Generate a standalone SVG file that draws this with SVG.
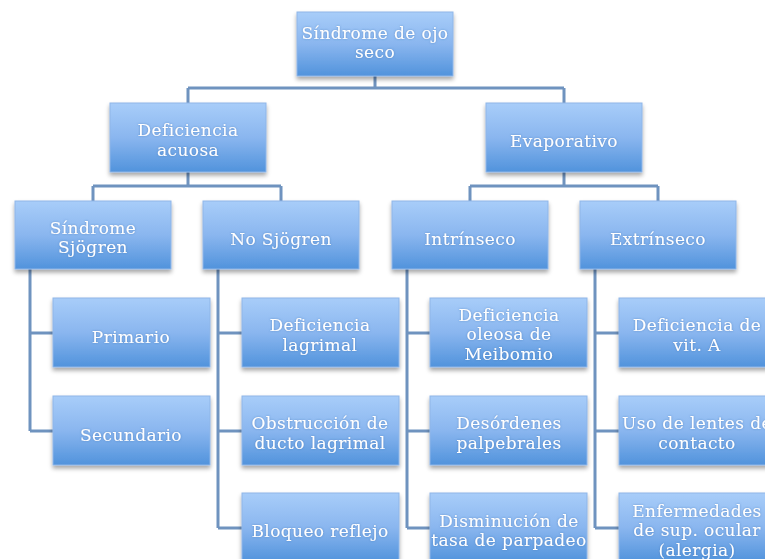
<svg xmlns="http://www.w3.org/2000/svg" width="765" height="559" viewBox="0 0 765 559">
<defs>
<linearGradient id="g" x1="0" y1="0" x2="0" y2="1">
<stop offset="0" stop-color="#a8cdf9"/>
<stop offset="0.5" stop-color="#8ab6ef"/>
<stop offset="1" stop-color="#5193dc"/>
</linearGradient>
<filter id="sh" x="-10%" y="-10%" width="120%" height="130%">
<feDropShadow dx="0" dy="3" stdDeviation="2" flood-color="#000" flood-opacity="0.35"/>
</filter>
<filter id="tg" x="-10%" y="-30%" width="120%" height="160%">
<feDropShadow dx="0" dy="0" stdDeviation="0.8" flood-color="#3b6fae" flood-opacity="0.6"/>
</filter>
</defs>
<style>
.b{fill:url(#g);stroke:#8fb6e8;stroke-width:1;filter:url(#sh)}
.t{font-family:"DejaVu Serif","Liberation Serif",serif;font-size:17px;letter-spacing:0.4px;fill:#fff;text-anchor:middle;filter:url(#tg)}
.c{fill:none;stroke:#6f93bf;stroke-width:3}
</style>
<rect width="765" height="559" fill="#fff"/>
<g id="connectors">
<path class="c" d="M375 76V88M188 88H564M188 88V103M564 88V103"/>
<path class="c" d="M188 172V186M93 186H281M93 186V201M281 186V201"/>
<path class="c" d="M564 172V186M470 186H658M470 186V201M658 186V201"/>
<path class="c" d="M30 269V431M30 333H53M30 431H53"/>
<path class="c" d="M218 269V528M218 333H242M218 431H242M218 528H242"/>
<path class="c" d="M407 269V528M407 333H430M407 431H430M407 528H430"/>
<path class="c" d="M595 269V528M595 333H619M595 431H619M595 528H619"/>
</g>
<g id="n-root"><rect class="b" x="297" y="12" width="156" height="64"/><text class="t" x="375" y="39">Síndrome de ojo</text><text class="t" x="375" y="58">seco</text></g>
<g id="n-acuosa"><rect class="b" x="110" y="103" width="156" height="69"/><text class="t" x="188" y="136">Deficiencia</text><text class="t" x="188" y="156">acuosa</text></g>
<g id="n-evap"><rect class="b" x="486" y="103" width="156" height="69"/><text class="t" x="564" y="147">Evaporativo</text></g>
<g id="n-sjogren"><rect class="b" x="15" y="201" width="156" height="68"/><text class="t" x="93" y="234">Síndrome</text><text class="t" x="93" y="253">Sjögren</text></g>
<g id="n-nosjogren"><rect class="b" x="203" y="201" width="156" height="68"/><text class="t" x="281" y="245">No Sjögren</text></g>
<g id="n-intrinseco"><rect class="b" x="392" y="201" width="156" height="68"/><text class="t" x="470" y="245">Intrínseco</text></g>
<g id="n-extrinseco"><rect class="b" x="580" y="201" width="156" height="68"/><text class="t" x="658" y="245">Extrínseco</text></g>
<g id="n-primario"><rect class="b" x="53" y="298" width="157" height="69"/><text class="t" x="131" y="343">Primario</text></g>
<g id="n-secundario"><rect class="b" x="53" y="396" width="157" height="69"/><text class="t" x="131" y="441">Secundario</text></g>
<g id="n-deflag"><rect class="b" x="242" y="298" width="157" height="69"/><text class="t" x="320" y="331">Deficiencia</text><text class="t" x="320" y="351">lagrimal</text></g>
<g id="n-obstr"><rect class="b" x="242" y="396" width="157" height="69"/><text class="t" x="320" y="429">Obstrucción de</text><text class="t" x="320" y="449">ducto lagrimal</text></g>
<g id="n-bloqueo"><rect class="b" x="242" y="493" width="157" height="69"/><text class="t" x="320" y="537">Bloqueo reflejo</text></g>
<g id="n-meibomio"><rect class="b" x="430" y="298" width="157" height="69"/><text class="t" x="509" y="321">Deficiencia</text><text class="t" x="509" y="340">oleosa de</text><text class="t" x="509" y="360">Meibomio</text></g>
<g id="n-palpebrales"><rect class="b" x="430" y="396" width="157" height="69"/><text class="t" x="509" y="429">Desórdenes</text><text class="t" x="509" y="449">palpebrales</text></g>
<g id="n-parpadeo"><rect class="b" x="430" y="493" width="157" height="69"/><text class="t" x="509" y="527">Disminución de</text><text class="t" x="509" y="546">tasa de parpadeo</text></g>
<g id="n-vita"><rect class="b" x="619" y="298" width="157" height="69"/><text class="t" x="697" y="331">Deficiencia de</text><text class="t" x="697" y="351">vit. A</text></g>
<g id="n-lentes"><rect class="b" x="619" y="396" width="157" height="69"/><text class="t" x="697" y="429">Uso de lentes de</text><text class="t" x="697" y="449">contacto</text></g>
<g id="n-enferm"><rect class="b" x="619" y="493" width="157" height="69"/><text class="t" x="697" y="517">Enfermedades</text><text class="t" x="697" y="536">de sup. ocular</text><text class="t" x="697" y="556">(alergia)</text></g>
</svg>
